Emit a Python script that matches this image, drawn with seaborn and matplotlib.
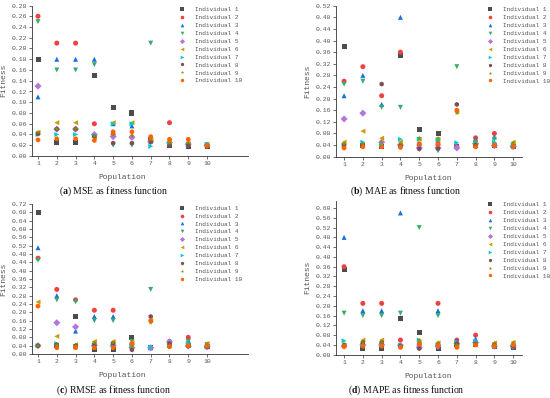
import matplotlib
matplotlib.use("Agg")
import matplotlib.pyplot as plt
import seaborn as sns
import pandas as pd

population = [1, 2, 3, 4, 5, 6, 7, 8, 9, 10]
individuals = [f"Individual {i}" for i in range(1, 11)]

# rows: Individual 1..10, columns: population 1..10
mse = [
    [0.18, 0.025, 0.025, 0.15, 0.09, 0.08, 0.030, 0.020, 0.018, 0.017],
    [0.26, 0.21, 0.21, 0.06, 0.040, 0.035, 0.033, 0.062, 0.022, 0.020],
    [0.11, 0.18, 0.18, 0.18, 0.06, 0.056, 0.028, 0.026, 0.022, 0.020],
    [0.25, 0.16, 0.16, 0.17, 0.020, 0.020, 0.21, 0.020, 0.022, 0.021],
    [0.13, 0.050, 0.050, 0.040, 0.036, 0.035, 0.027, 0.025, 0.022, 0.020],
    [0.044, 0.062, 0.062, 0.035, 0.062, 0.062, 0.030, 0.028, 0.022, 0.020],
    [0.040, 0.040, 0.040, 0.038, 0.060, 0.060, 0.018, 0.022, 0.020, 0.021],
    [0.041, 0.050, 0.050, 0.036, 0.024, 0.024, 0.026, 0.020, 0.020, 0.018],
    [0.045, 0.050, 0.050, 0.037, 0.040, 0.038, 0.030, 0.024, 0.025, 0.020],
    [0.030, 0.032, 0.032, 0.029, 0.045, 0.045, 0.036, 0.031, 0.031, 0.019],
]
mae = [
    [0.38, 0.040, 0.035, 0.35, 0.092, 0.08, 0.035, 0.040, 0.040, 0.035],
    [0.26, 0.31, 0.21, 0.36, 0.040, 0.040, 0.035, 0.065, 0.08, 0.035],
    [0.21, 0.28, 0.18, 0.48, 0.035, 0.055, 0.035, 0.060, 0.068, 0.035],
    [0.25, 0.26, 0.17, 0.17, 0.025, 0.020, 0.31, 0.050, 0.060, 0.035],
    [0.13, 0.15, 0.050, 0.040, 0.030, 0.030, 0.030, 0.045, 0.038, 0.035],
    [0.050, 0.088, 0.064, 0.050, 0.060, 0.060, 0.155, 0.040, 0.040, 0.050],
    [0.040, 0.050, 0.040, 0.060, 0.060, 0.058, 0.048, 0.050, 0.050, 0.040],
    [0.040, 0.040, 0.25, 0.038, 0.027, 0.028, 0.18, 0.040, 0.040, 0.035],
    [0.045, 0.045, 0.050, 0.045, 0.065, 0.064, 0.15, 0.055, 0.040, 0.048],
    [0.030, 0.034, 0.034, 0.032, 0.045, 0.045, 0.16, 0.034, 0.040, 0.035],
]
rmse = [
    [0.68, 0.040, 0.18, 0.020, 0.020, 0.08, 0.030, 0.040, 0.040, 0.035],
    [0.46, 0.31, 0.26, 0.21, 0.21, 0.045, 0.030, 0.060, 0.08, 0.035],
    [0.51, 0.28, 0.11, 0.18, 0.18, 0.040, 0.030, 0.055, 0.065, 0.035],
    [0.45, 0.26, 0.25, 0.16, 0.16, 0.060, 0.31, 0.040, 0.060, 0.045],
    [0.040, 0.15, 0.13, 0.040, 0.040, 0.030, 0.030, 0.058, 0.038, 0.035],
    [0.25, 0.085, 0.045, 0.060, 0.060, 0.055, 0.16, 0.040, 0.040, 0.050],
    [0.040, 0.050, 0.035, 0.045, 0.045, 0.040, 0.033, 0.045, 0.050, 0.035],
    [0.040, 0.045, 0.040, 0.045, 0.050, 0.020, 0.18, 0.050, 0.038, 0.035],
    [0.040, 0.045, 0.040, 0.055, 0.055, 0.035, 0.15, 0.040, 0.040, 0.050],
    [0.23, 0.030, 0.030, 0.030, 0.030, 0.050, 0.16, 0.035, 0.040, 0.038],
]
mape = [
    [0.35, 0.025, 0.025, 0.15, 0.09, 0.025, 0.040, 0.040, 0.035, 0.030],
    [0.36, 0.21, 0.21, 0.06, 0.040, 0.21, 0.060, 0.08, 0.035, 0.035],
    [0.48, 0.18, 0.18, 0.58, 0.035, 0.18, 0.058, 0.065, 0.035, 0.035],
    [0.17, 0.16, 0.16, 0.17, 0.52, 0.16, 0.040, 0.040, 0.035, 0.035],
    [0.035, 0.040, 0.040, 0.038, 0.030, 0.035, 0.045, 0.050, 0.035, 0.035],
    [0.040, 0.060, 0.060, 0.035, 0.050, 0.048, 0.035, 0.040, 0.048, 0.050],
    [0.057, 0.040, 0.040, 0.040, 0.060, 0.040, 0.050, 0.055, 0.035, 0.035],
    [0.040, 0.050, 0.050, 0.035, 0.025, 0.040, 0.045, 0.045, 0.040, 0.035],
    [0.040, 0.050, 0.050, 0.035, 0.060, 0.050, 0.040, 0.040, 0.048, 0.050],
    [0.033, 0.035, 0.035, 0.030, 0.045, 0.038, 0.030, 0.040, 0.035, 0.040],
]

captions = ["a", "b", "c", "d"]
caption_text = ["MSE as fitness function", "MAE as fitness function",
                "RMSE as fitness function", "MAPE as fitness function"]

colors = ["#4d4d4d", "#f14040", "#1a6fdf", "#37ad6b", "#b177de",
          "#cc9900", "#00cbcc", "#7d4e4e", "#8e8e00", "#fb6501"]
markers = ["s", "o", "^", "v", "D", "<", ">", "h", "*", "8"]

sns.set_style("ticks")
plt.rcParams["font.family"] = ["Liberation Mono", "DejaVu Sans Mono"]
plt.rcParams["mathtext.fontset"] = "custom"
plt.rcParams["mathtext.rm"] = "Liberation Serif"
plt.rcParams["mathtext.bf"] = "Liberation Serif:bold"

W, H = 550, 398
fig = plt.figure(figsize=(5.5, 3.98), dpi=100)

# panel geometry in pixels: left, right, top, bottom; limits
panels = [
    dict(data=mse, box=(32, 248, 5.5, 156), xlim=(0.68, 12.18), ylim=(0, 0.28), step=0.02),
    dict(data=mae, box=(336, 522, 5.7, 156.7), xlim=(0.57, 10.47), ylim=(0, 0.52), step=0.04),
    dict(data=rmse, box=(32, 248, 204, 354), xlim=(0.68, 12.18), ylim=(0, 0.72), step=0.04),
    dict(data=mape, box=(336, 522, 200.7, 354.7), xlim=(0.57, 10.47), ylim=(0, 0.63), step=0.04),
]

for k, p in enumerate(panels):
    l, r, t, b = p["box"]
    ax = fig.add_axes([l / W, 1 - b / H, (r - l) / W, (b - t) / H])
    rows = []
    for i, name in enumerate(individuals):
        for j, pop in enumerate(population):
            rows.append({"Population": pop, "Fitness": p["data"][i][j], "Individual": name})
    df = pd.DataFrame(rows)
    sns.scatterplot(data=df, x="Population", y="Fitness", hue="Individual", style="Individual",
                    hue_order=individuals, style_order=individuals,
                    palette=colors, markers=markers, s=13, linewidth=0, ax=ax)
    ax.set_xlim(*p["xlim"])
    ax.set_ylim(*p["ylim"])
    ax.set_xticks(population)
    top = p["ylim"][1]
    n = int(round(top / p["step"]))
    yt = [round(i * p["step"], 2) for i in range(n + 1) if i * p["step"] <= top + 1e-9]
    ax.set_yticks(yt)
    ax.set_yticklabels([f"{v:.2f}" for v in yt])
    for s in ["top", "right"]:
        ax.spines[s].set_visible(False)
    for s in ["left", "bottom"]:
        ax.spines[s].set_linewidth(0.6)
        ax.spines[s].set_color("#333333")
    ax.tick_params(axis="both", direction="out", length=2, width=0.5, labelsize=4.6,
                   pad=1.5, colors="#333333", labelcolor="#555555")
    ax.set_xlabel("Population", fontsize=5.8, color="#555555")
    ax.set_ylabel("Fitness", fontsize=5.8, color="#555555")
    x0, x1 = p["xlim"]
    ax.xaxis.set_label_coords((5.5 - x0) / (x1 - x0), -18 / (b - t))
    ax.yaxis.set_label_coords(-25 / (r - l), 0.5)
    # legend
    handles, labels = ax.get_legend_handles_labels()
    ax.legend_.remove()
    lx = (183 if l < 100 else 491) - 3.5
    ly = t + 1.5
    fig.legend(handles, labels, loc="upper left",
               bbox_to_anchor=(lx / W, 1 - ly / H), frameon=False,
               fontsize=4.4, handlelength=0.8, handletextpad=1.8,
               labelspacing=0.43, borderpad=0, borderaxespad=0,
               markerscale=0.72, labelcolor="#555555")

# captions
for k in range(4):
    cx = 114 if k % 2 == 0 else 406
    cy = 191 if k < 2 else 390
    fig.text(cx / W, 1 - cy / H, r"($\mathbf{" + captions[k] + r"}$) " + caption_text[k],
             ha="center", va="center", fontsize=7, family="Liberation Serif", color="#111111")

fig.savefig("out.png", dpi=100)
